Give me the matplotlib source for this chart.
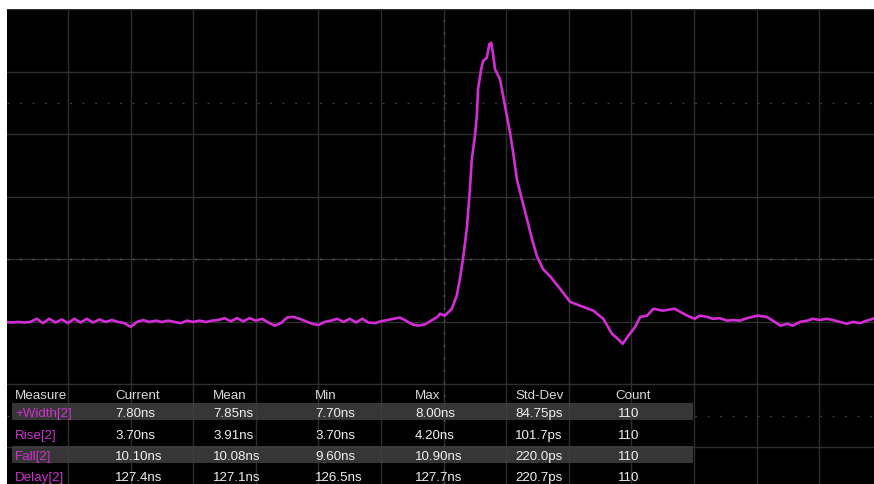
"""
Oscilloscope screen: one pulse on channel 2 with a measurement table
"""

import matplotlib.pyplot as plt
from matplotlib.patches import Rectangle

# trace samples, in screen divisions (x: time, y: volts)
t_div = [-7.0, -6.9, -6.8, -6.7, -6.6, -6.5, -6.4, -6.3, -6.2, -6.1,
         -6.0, -5.9, -5.8, -5.7, -5.6, -5.5, -5.4, -5.3, -5.2, -5.1,
         -5.0, -4.9, -4.8, -4.7, -4.6, -4.5, -4.4, -4.3, -4.2, -4.1,
         -4.0, -3.9, -3.8, -3.7, -3.6, -3.5, -3.4, -3.3, -3.2, -3.1,
         -3.0, -2.9, -2.8, -2.7, -2.6, -2.5, -2.4, -2.3, -2.2, -2.1,
         -2.0, -1.9, -1.8, -1.7, -1.6, -1.5, -1.4, -1.3, -1.2, -1.1,
         -1.0, -0.9, -0.8, -0.7, -0.6, -0.5, -0.4, -0.3, -0.2, -0.1,
         -0.06, 0.02, 0.13, 0.21, 0.26, 0.31, 0.37, 0.42, 0.45, 0.50,
         0.53, 0.55, 0.60, 0.63, 0.69, 0.73, 0.76, 0.79, 0.82, 0.90,
         0.95, 1.01, 1.06, 1.11, 1.17, 1.25, 1.33, 1.41, 1.49, 1.59,
         1.70, 1.86, 2.02, 2.10, 2.23, 2.39, 2.55, 2.69, 2.77, 2.86,
         2.95, 3.06, 3.14, 3.25, 3.35, 3.50, 3.69, 3.89, 4.01, 4.09,
         4.21, 4.30, 4.41, 4.53, 4.62, 4.73, 4.85, 5.01, 5.16, 5.26,
         5.38, 5.49, 5.58, 5.69, 5.81, 5.90, 6.01, 6.12, 6.22, 6.33,
         6.44, 6.54, 6.65, 6.76, 6.86]
v_div = [-1.00, -1.01, -1.00, -1.01, -1.00, -0.95, -1.02, -0.95, -1.01, -0.96,
         -1.02, -0.95, -1.01, -0.95, -1.01, -0.96, -1.00, -0.97, -1.00, -1.02,
         -1.08, -1.00, -0.97, -1.00, -0.98, -1.00, -0.98, -1.00, -1.02, -0.98,
         -1.00, -0.98, -1.00, -0.98, -0.97, -0.94, -0.99, -0.94, -0.99, -0.94,
         -0.98, -0.95, -1.01, -1.06, -1.02, -0.93, -0.92, -0.95, -0.99, -1.03,
         -1.05, -1.00, -0.98, -0.95, -1.00, -0.95, -1.01, -0.95, -1.01, -1.02,
         -0.99, -0.97, -0.95, -0.93, -0.98, -1.04, -1.06, -1.04, -0.98, -0.92,
         -0.87, -0.90, -0.79, -0.58, -0.31, 0.01, 0.49, 1.12, 1.60, 1.97,
         2.29, 2.72, 3.04, 3.17, 3.22, 3.44, 3.46, 3.28, 3.04, 2.88,
         2.61, 2.29, 2.03, 1.71, 1.28, 0.96, 0.65, 0.33, 0.05, -0.16,
         -0.27, -0.47, -0.68, -0.71, -0.76, -0.82, -0.95, -1.19, -1.26, -1.35,
         -1.22, -1.08, -0.92, -0.90, -0.79, -0.82, -0.79, -0.90, -0.95, -0.90,
         -0.92, -0.95, -0.94, -0.98, -0.97, -0.98, -0.94, -0.90, -0.92, -0.98,
         -1.06, -1.03, -1.06, -1.00, -0.98, -0.95, -0.97, -0.95, -0.97, -1.00,
         -1.03, -1.00, -1.02, -0.98, -0.95]

# measurement table
headers = ['Measure', 'Current', 'Mean', 'Min', 'Max', 'Std-Dev', 'Count']
meas_names = ['+Width[2]', 'Rise[2]', 'Fall[2]', 'Delay[2]']
current = ['7.80ns', '3.70ns', '10.10ns', '127.4ns']
mean = ['7.85ns', '3.91ns', '10.08ns', '127.1ns']
minimum = ['7.70ns', '3.70ns', '9.60ns', '126.5ns']
maximum = ['8.00ns', '4.20ns', '10.90ns', '127.7ns']
std_dev = ['84.75ps', '101.7ps', '220.0ps', '220.7ps']
count = ['110', '110', '110', '110']

W, H = 874, 485
TRACE = '#d42cd6'
GRID = '#2e2e2e'

fig = plt.figure(figsize=(W / 100, H / 100), dpi=100, facecolor='white')
# black screen area (small white margin at left and top)
ax = fig.add_axes([7 / W, 0, (W - 7) / W, (H - 10) / H])
ax.set_facecolor('black')
for s in ax.spines.values():
    s.set_visible(False)

# ticks first: set_ticks widens the limits, so the limits come after
ax.set_xticks(range(-7, 8))
ax.set_yticks(range(-4, 5))
ax.tick_params(length=0, labelbottom=False, labelleft=False)
ax.grid(True, color=GRID, lw=1.0)
ax.set_xlim(-6.975, 6.875)
ax.set_ylim(-3.59, 4.0)

# centre cross and the two extra dotted rows
dots = (0, (1.5, 7.5))
ax.axhline(0, color='#555555', lw=1.0, ls=dots)
ax.axvline(0, color='#555555', lw=1.0, ls=dots)
ax.axhline(2.5, color='#3a3a3a', lw=1.0, ls=dots)
ax.axhline(-2.5, color='#3a3a3a', lw=1.0, ls=dots)

ax.plot(t_div, v_div, color=TRACE, lw=1.9, zorder=5)


def fx(px):
    return px / W


def fy(py):
    return 1 - py / H


# shaded rows of the table
for yc in (412.5, 455):
    fig.patches.append(Rectangle((fx(12), fy(yc + 8.5)), fx(693) - fx(12), 17 / H,
                                 transform=fig.transFigure, facecolor='#404040',
                                 alpha=0.85, edgecolor='none', zorder=2))

col_x = [15, 115, 213, 315, 415, 515, 615]
row_y = [396, 414, 436, 457, 478]
font = dict(family='Liberation Sans', fontsize=9.6, va='center', ha='left', zorder=3)

for x, h in zip(col_x, headers):
    fig.text(fx(x), fy(row_y[0]), h, color='#d8d8d8', **font)

columns = [current, mean, minimum, maximum, std_dev, count]
for i, name in enumerate(meas_names):
    y = fy(row_y[i + 1])
    fig.text(fx(col_x[0]), y, name, color='#d030d0', **font)
    for j, col in enumerate(columns):
        x = col_x[j + 1] + (3 if j == 5 else 0)
        fig.text(fx(x), y, col[i], color='#f0f0f0', **font)

plt.savefig('out.png', dpi=100, facecolor='white')
